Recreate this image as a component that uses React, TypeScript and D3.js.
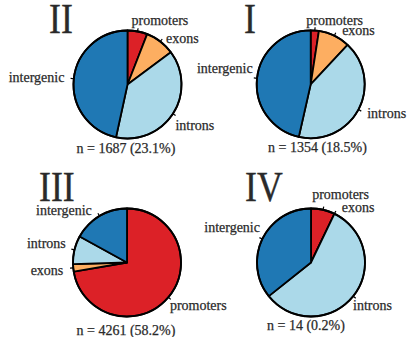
import React from "react";
import * as d3 from "d3";

// Genomic feature categories, in clockwise order from 12 o'clock
const categories = ["promoters", "exons", "introns", "intergenic"];
const colors = ["#dc2127", "#fdae61", "#abd9e9", "#1f78b4"];

// Peak counts per category for each cluster
const clusterNames = ["II", "I", "III", "IV"];
const countsII = [100, 150, 651, 786];
const countsI = [33, 129, 563, 629];
const countsIII = [3081, 94, 362, 724];
const countsIV = [1, 0, 8, 5];
const totals = [1687, 1354, 4261, 14];
const shares = ["23.1%", "18.5%", "58.2%", "0.2%"];

const allCounts = [countsII, countsI, countsIII, countsIV];

// Panel placement: pie centre, title origin, caption origin and per-label nudges
const layout = [
  { cx: 127.5, cy: 84.5, tx: 49, ty: 33, nx: 126, ny: 153,
    nudge: [[-7, -5], [2.5, 1.7], [-2, 9], [-4, 0]] },
  { cx: 310.7, cy: 84.3, tx: 244, ty: 33, nx: 317.5, ny: 152,
    nudge: [[-9, -4], [5.5, 0], [4, 2], [1, -9]] },
  { cx: 127, cy: 262.5, tx: 39, ty: 201, nx: 126, ny: 334.5,
    nudge: [[-2.5, 5], [-4.6, 2.7], [-3.5, -4.6], [-5, -0.7]] },
  { cx: 311, cy: 262.5, tx: 245, ty: 201, nx: 306, ny: 329.5,
    nudge: [[-12, -10], [5, -0.7], [-4.4, 6], [2.5, -8.7]] },
];

const R = 54;
const FONT = "'Liberation Serif', serif";
const TEXT = "#2a2a2a";

const pie = d3
  .pie<number>()
  .sort(null)
  .value((d) => d)
  .startAngle(0)
  .endAngle(2 * Math.PI);

const arc = d3.arc<d3.PieArcDatum<number>>().innerRadius(0).outerRadius(R);

const labelStyle = {
  fontFamily: FONT,
  fontSize: 14,
  fill: TEXT,
  stroke: TEXT,
  strokeWidth: 0.25,
};

function Panel({ idx }: { idx: number }) {
  const L = layout[idx];
  const arcs = pie(allCounts[idx]);
  return (
    <g>
      <text
        transform={`translate(${L.tx},${L.ty}) scale(0.85,1)`}
        fontFamily={FONT}
        fontSize={42}
        fill={TEXT}
        stroke={TEXT}
        strokeWidth={0.4}
      >
        {clusterNames[idx]}
      </text>
      <g transform={`translate(${L.cx},${L.cy})`}>
        {arcs.map((a, i) => (
          <path
            key={i}
            d={arc(a) || ""}
            fill={colors[i]}
            stroke="#000"
            strokeWidth={1.8}
            strokeLinejoin="round"
          />
        ))}
        <circle r={R} fill="none" stroke="#000" strokeWidth={1.8} />
        {arcs.map((a, i) => {
          const m = (a.startAngle + a.endAngle) / 2;
          const sx = Math.sin(m);
          const sy = -Math.cos(m);
          const lx = sx * R * 1.1 + L.nudge[i][0];
          const ly = sy * R * 1.1 + L.nudge[i][1] + 4;
          return (
            <g key={"l" + i}>
              <line
                x1={sx * R}
                y1={sy * R}
                x2={sx * R * 1.06}
                y2={sy * R * 1.06}
                stroke="#000"
                strokeWidth={1.2}
              />
              <text
                x={lx}
                y={ly}
                textAnchor={sx < 0 ? "end" : "start"}
                style={labelStyle}
              >
                {categories[i]}
              </text>
            </g>
          );
        })}
      </g>
      <text x={L.nx} y={L.ny} textAnchor="middle" style={labelStyle}>
        {`n = ${totals[idx]} (${shares[idx]})`}
      </text>
    </g>
  );
}

export default function App() {
  return (
    <svg
      width={410}
      height={337}
      style={{ position: "absolute", left: 0, top: 0, background: "#fff" }}
    >
      {clusterNames.map((_, i) => (
        <Panel key={i} idx={i} />
      ))}
    </svg>
  );
}
